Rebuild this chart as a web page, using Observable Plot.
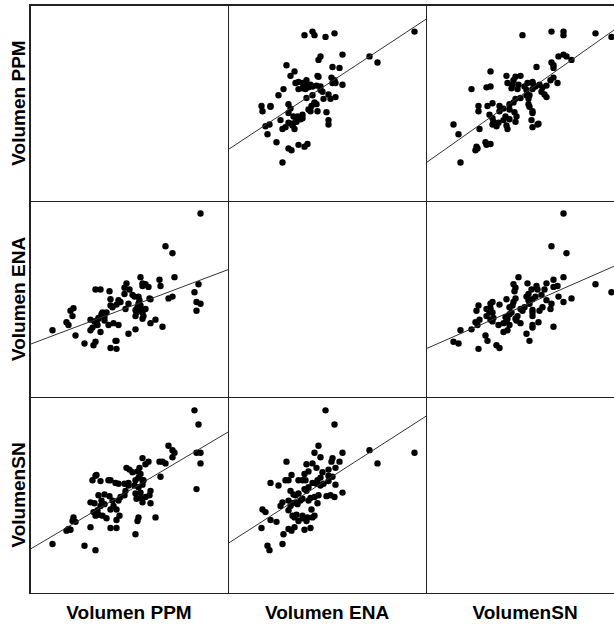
<!DOCTYPE html>
<html>
<head>
<meta charset="utf-8">
<script src="https://cdn.jsdelivr.net/npm/d3@7"></script>
<script src="https://cdn.jsdelivr.net/npm/@observablehq/plot@0.6"></script>
<style>
  html, body { margin: 0; padding: 0; width: 614px; height: 626px; overflow: hidden; background: #fff; }
  #wrap { position: relative; width: 614px; height: 626px; font-family: "Liberation Sans", Arial, sans-serif; }
  #grid { position: absolute; left: 30px; top: 5px; display: grid;
          grid-template-columns: 198px 198px 198px; grid-template-rows: 196px 196px 196px;
          outline: 1px solid #222; }
  #grid svg { display: block; }
  .rowlab { position: absolute; width: 196px; height: 22px; line-height: 22px; text-align: center;
            font-size: 19px; font-weight: bold; color: #000; transform: rotate(-90deg); transform-origin: 50% 50%;
            white-space: nowrap; }
  .collab { position: absolute; width: 198px; height: 22px; line-height: 22px; text-align: center;
            font-size: 19px; font-weight: bold; color: #000; white-space: nowrap; }
</style>
</head>
<body>
<div id="wrap">
  <div id="grid"></div>
</div>
<script>
// Variable names, in matrix order (rows top to bottom, columns left to right)
const labels = ["Volumen PPM", "Volumen ENA", "VolumenSN"];

// One row per case: volumes measured by the three methods
const ppm = [186,190,160,164,166,188,192,164,134,151,
             154,140,157,192,137,118,131,121,129,124,
             132,88,152,130,84,102,127,135,92,107,
             120,110,116,134,126,130,188,117,142,132,
             127,96,116,141,90,101,112,137,132,128,
             93,104,110,82,134,86,142,96,92,105,
             108,102,89,90,87,94,65,130,147,98,
             108,129,64,67,82,108,60,62,58,127,
             44,76,87,134,100,120,85,111,102,87];

const ena = [119,128,112,163,136,108,208,114,126,133,
             80,125,171,106,100,129,110,122,102,116,
             98,85,126,114,79,111,99,92,122,64,
             106,110,117,129,114,102,98,100,84,136,
             92,87,124,112,89,120,108,128,104,96,
             94,102,82,76,89,86,111,91,74,84,
             105,56,82,90,86,96,101,106,88,96,
             64,100,92,70,88,55,82,98,85,77,
             76,61,63,96,82,72,59,108,104,122];

const sn  = [207,191,167,162,159,159,159,154,153,149,
             149,149,147,147,146,142,142,140,138,137,
             135,134,132,131,128,128,128,128,127,125,
             125,124,124,123,122,120,118,116,116,114,
             113,112,111,111,111,110,109,109,108,107,
             105,105,105,103,103,102,102,101,99,99,
             95,95,94,89,88,88,86,86,86,85,
             83,82,82,81,75,74,73,72,71,67,
             56,54,49,128,128,122,92,88,74,133];

const vars = [ppm, ena, sn];

// Shared scale extents: horizontal and vertical axes of every cell
const xDomain = [22, 220];
const yDomain = [0, 221.5];
const cellW = 198, cellH = 196;

// Ordinary least squares fit of y on x
function fit(xs, ys) {
  const mx = d3.mean(xs), my = d3.mean(ys);
  let sxy = 0, sxx = 0;
  for (let i = 0; i < xs.length; i++) {
    sxy += (xs[i] - mx) * (ys[i] - my);
    sxx += (xs[i] - mx) ** 2;
  }
  const b = sxy / sxx;
  return [my - b * mx, b];
}

function cell(row, col) {
  const frame = Plot.frame({stroke: "#222", strokeWidth: 1});
  const base = {width: cellW, height: cellH, margin: 0,
                x: {domain: xDomain, axis: null}, y: {domain: yDomain, axis: null}};
  if (row === col) return Plot.plot({...base, marks: [frame]});
  const xs = vars[col], ys = vars[row];
  const pts = xs.map((x, i) => ({x, y: ys[i]}));
  const [a, b] = fit(xs, ys);
  const fitLine = xDomain.map(x => ({x, y: a + b * x}));
  return Plot.plot({
    ...base,
    marks: [
      Plot.dot(pts, {x: "x", y: "y", r: 3.2, fill: "#000", stroke: "none"}),
      Plot.line(fitLine, {x: "x", y: "y", stroke: "#333", strokeWidth: 1, clip: true}),
      frame
    ]
  });
}

const grid = document.getElementById("grid");
for (let r = 0; r < 3; r++) for (let c = 0; c < 3; c++) grid.appendChild(cell(r, c));

const wrap = document.getElementById("wrap");
labels.forEach((t, i) => {
  const rl = document.createElement("div");
  rl.className = "rowlab";
  rl.textContent = t;
  rl.style.left = (19 - 98) + "px";
  rl.style.top = (5 + cellH * i + cellH / 2 - 11) + "px";
  wrap.appendChild(rl);

  const cl = document.createElement("div");
  cl.className = "collab";
  cl.textContent = t;
  cl.style.left = (30 + cellW * i) + "px";
  cl.style.top = "602px";
  wrap.appendChild(cl);
});
</script>
</body>
</html>
